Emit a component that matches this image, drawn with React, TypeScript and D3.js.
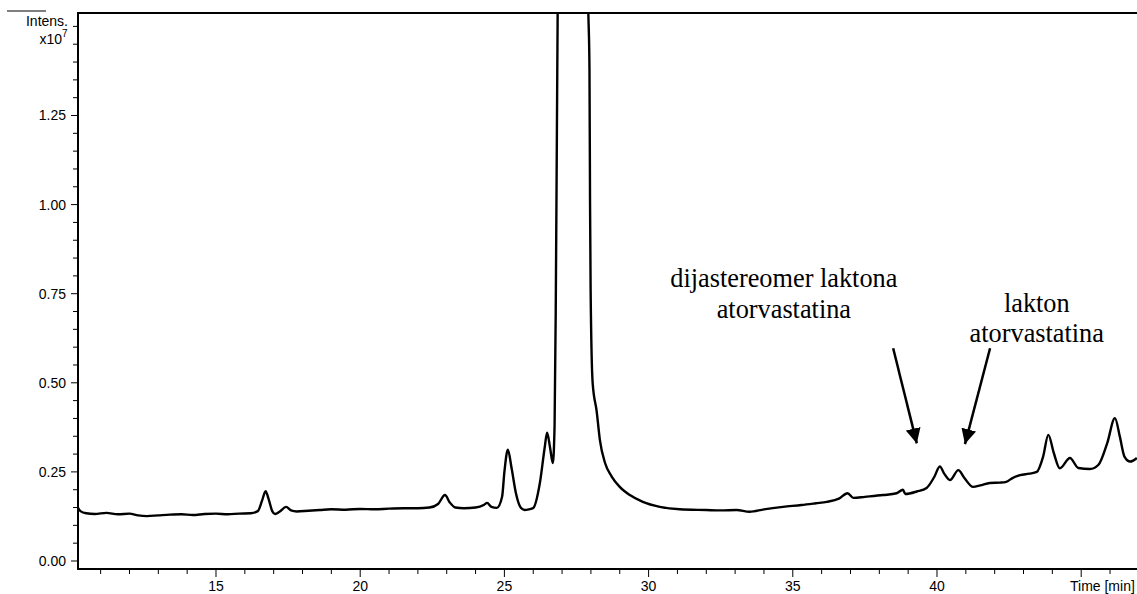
import React from "react";
import * as d3 from "d3";

const times: number[] = [
  10.21, 10.3, 10.5, 10.8, 11.2, 11.6, 12.0, 12.3, 12.6, 13.0, 13.4, 13.8, 14.2, 14.6, 15.0, 15.4, 15.8, 16.2,
  16.45, 16.6, 16.72, 16.82, 16.95, 17.05, 17.2, 17.43, 17.6, 17.8, 18.2, 18.6, 19.0, 19.5, 20.0, 20.5, 21.0,
  21.5, 22.0, 22.4, 22.7, 22.94, 23.1, 23.3, 23.6, 24.0, 24.3, 24.4, 24.55, 24.74, 24.92, 25.0, 25.12, 25.25,
  25.4, 25.55, 25.7, 25.85, 26.0, 26.23, 26.4, 26.48, 26.58, 26.68, 26.74, 26.78, 26.82, 26.86, 26.95, 27.4,
  27.85, 27.9, 27.95, 27.97, 27.99, 28.06, 28.2, 28.31, 28.49, 28.72, 29.0, 29.35, 29.8, 30.39, 31.08, 32.0,
  32.5, 33.05, 33.5, 34.0, 34.66, 35.3, 35.8, 36.18, 36.6, 36.9, 37.1, 37.5, 38.13, 38.6, 38.82, 38.9, 39.3,
  39.64, 39.9, 40.1, 40.25, 40.45, 40.74, 40.95, 41.25, 41.5, 41.83, 42.2, 42.4, 42.6, 42.88, 43.2, 43.46,
  43.68, 43.86, 44.05, 44.26, 44.61, 44.9, 45.3, 45.6, 45.9, 46.17, 46.34, 46.5, 46.7, 46.93,
];

const intensity: number[] = [
  0.150, 0.140, 0.134, 0.132, 0.135, 0.131, 0.133, 0.128, 0.126, 0.128, 0.130, 0.131, 0.129, 0.132, 0.133, 0.131, 0.133, 0.134,
  0.140, 0.170, 0.196, 0.175, 0.140, 0.132, 0.138, 0.152, 0.142, 0.139, 0.141, 0.143, 0.145, 0.144, 0.146, 0.145, 0.147,
  0.148, 0.148, 0.150, 0.160, 0.185, 0.165, 0.150, 0.148, 0.150, 0.158, 0.163, 0.152, 0.149, 0.180, 0.250, 0.312, 0.260,
  0.190, 0.152, 0.143, 0.145, 0.149, 0.219, 0.320, 0.360, 0.320, 0.275, 0.380, 0.700, 1.200, 1.700, 2.400, 3.000,
  2.200, 1.600, 1.380, 1.000, 0.760, 0.500, 0.420, 0.340, 0.275, 0.237, 0.208, 0.185, 0.166, 0.152, 0.145, 0.143,
  0.142, 0.143, 0.138, 0.145, 0.152, 0.157, 0.162, 0.166, 0.175, 0.190, 0.177, 0.180, 0.185, 0.190, 0.200, 0.188, 0.195,
  0.205, 0.235, 0.265, 0.245, 0.227, 0.255, 0.233, 0.208, 0.212, 0.219, 0.220, 0.222, 0.232, 0.241, 0.245, 0.250,
  0.293, 0.354, 0.303, 0.260, 0.289, 0.261, 0.258, 0.270, 0.330, 0.401, 0.349, 0.293, 0.279, 0.289,
];

const yMajorTicks: number[] = [0, 0.25, 0.5, 0.75, 1.0, 1.25];
const xMajorTicks: number[] = [15, 20, 25, 30, 35, 40];

const annotations = [
  { lines: ["dijastereomer laktona", "atorvastatina"], t: 34.69, v: 0.770, gap: 31.5 },
  { lines: ["lakton", "atorvastatina"], t: 43.46, v: 0.700, gap: 30 },
];
const arrows = [
  { from: [38.48, 0.597], to: [39.30, 0.330] },
  { from: [41.84, 0.597], to: [40.97, 0.328] },
];

export default function App() {
  const W = 1137, H = 594;
  const left = 78, right = 1137, top = 13, bottom = 569;
  const x = d3.scaleLinear().domain([10.215, 46.935]).range([left, right]);
  const y = d3.scaleLinear().domain([-0.02245, 1.5376]).range([bottom, top]);

  const data = times.map((t, i) => [t, intensity[i]] as [number, number]);
  const line = d3.line<[number, number]>().x(d => x(d[0])).y(d => y(d[1])).curve(d3.curveMonotoneX);

  const yMinor = d3.range(0, 151, 5).map(v => v / 100);
  const xMinor = d3.range(11, 47, 1);
  const sans = "Arial, 'Liberation Sans', Helvetica, sans-serif";
  const serif = "'Times New Roman', 'Liberation Serif', serif";

  return (
    <svg width={W} height={H} style={{ position: "absolute", left: 0, top: 0, background: "#fff" }}>
      <defs>
        <clipPath id="plot">
          <rect x={left} y={top} width={right - left} height={bottom - top} />
        </clipPath>
        <marker id="ah" viewBox="0 0 10 10" refX="10" refY="5" markerWidth="6" markerHeight="6.4" markerUnits="strokeWidth" orient="auto">
          <path d="M0,0 L10,5 L0,10 z" fill="#000" />
        </marker>
      </defs>
      <rect x={0} y={0} width={W} height={H} fill="#fff" />
      <line x1={7} x2={46} y1={11} y2={11} stroke="#000" strokeWidth={1} />
      <path d={line(data) || ""} fill="none" stroke="#000" strokeWidth={2.4} strokeLinejoin="round" clipPath="url(#plot)" />
      <line x1={left} x2={right} y1={top} y2={top} stroke="#000" strokeWidth={2.2} />
      <line x1={left} x2={left} y1={top - 1} y2={bottom + 1} stroke="#000" strokeWidth={2} />
      <line x1={left - 1} x2={right} y1={bottom} y2={bottom} stroke="#000" strokeWidth={2} />
      {yMinor.map(v => {
        const major = yMajorTicks.some(m => Math.abs(m - v) < 1e-6);
        return <line key={"ym" + v} x1={left - (major ? 7 : 5)} x2={left} y1={y(v)} y2={y(v)} stroke="#000" strokeWidth={1} />;
      })}
      {yMajorTicks.map(v => (
        <text key={"yl" + v} x={66} y={y(v)} dy="0.35em" textAnchor="end" fontFamily={sans} fontSize={14}>
          {d3.format(".2f")(v)}
        </text>
      ))}
      {xMinor.map(t => {
        const major = t % 5 === 0;
        return <line key={"xm" + t} x1={x(t)} x2={x(t)} y1={bottom} y2={bottom + (major ? 8 : 5)} stroke="#000" strokeWidth={1} />;
      })}
      {xMajorTicks.map(t => (
        <text key={"xl" + t} x={x(t)} y={591} textAnchor="middle" fontFamily={sans} fontSize={14}>
          {t}
        </text>
      ))}
      <text x={1070} y={591} fontFamily={sans} fontSize={14}>Time [min]</text>
      <text x={68} y={26} textAnchor="end" fontFamily={sans} fontSize={14}>Intens.</text>
      <text x={62} y={44} textAnchor="end" fontFamily={sans} fontSize={14}>x10</text>
      <text x={62} y={37} fontFamily={sans} fontSize={10}>7</text>
      {annotations.map((a, i) => (
        <text key={"an" + i} x={x(a.t)} y={y(a.v)} textAnchor="middle" fontFamily={serif} fontSize={26.3}>
          {a.lines.map((l, j) => (
            <tspan key={j} x={x(a.t)} dy={j === 0 ? 0 : a.gap}>{l}</tspan>
          ))}
        </text>
      ))}
      {arrows.map((a, i) => (
        <line key={"ar" + i} x1={x(a.from[0])} y1={y(a.from[1])} x2={x(a.to[0])} y2={y(a.to[1])} stroke="#000" strokeWidth={2.5} markerEnd="url(#ah)" />
      ))}
    </svg>
  );
}
